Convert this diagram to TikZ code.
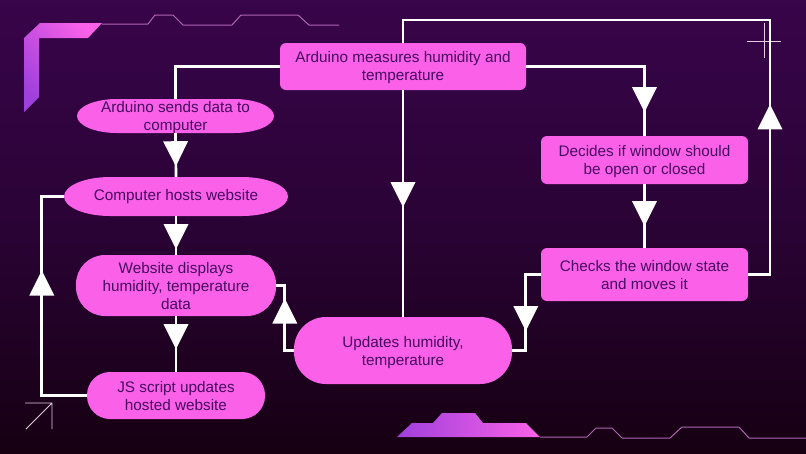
\documentclass[tikz,border=0pt]{standalone}
\usepackage{fontspec}
\setmainfont{Liberation Sans}
\usetikzlibrary{decorations.markings}
\definecolor{bgtop}{HTML}{38044A}
\definecolor{bgmid}{HTML}{2A0335}
\definecolor{bgbot}{HTML}{160012}
\definecolor{pinkbox}{HTML}{FA61E8}
\definecolor{inkpurple}{HTML}{470A60}
\definecolor{violetdeco}{HTML}{A040DC}
\definecolor{linedeco}{HTML}{B066B4}
\newcommand{\ovalfill}[5]{% cx cy half-width half-height corner-width
  \fill[pinkbox] ({#1-#3},#2)
    .. controls ({#1-#3},{#2-0.55*#4}) and ({#1-#3+0.45*#5},{#2-#4}) .. ({#1-#3+#5},{#2-#4})
    -- ({#1+#3-#5},{#2-#4})
    .. controls ({#1+#3-0.45*#5},{#2-#4}) and ({#1+#3},{#2-0.55*#4}) .. ({#1+#3},#2)
    .. controls ({#1+#3},{#2+0.55*#4}) and ({#1+#3-0.45*#5},{#2+#4}) .. ({#1+#3-#5},{#2+#4})
    -- ({#1-#3+#5},{#2+#4})
    .. controls ({#1-#3+0.45*#5},{#2+#4}) and ({#1-#3},{#2+0.55*#4}) .. ({#1-#3},#2) -- cycle;}
\tikzset{
  x=1pt,y=-1pt,
  label text/.style={text=inkpurple,font=\fontsize{15.3}{18}\selectfont,align=center,inner sep=0pt},
  boxtext/.style 2 args={label={[label text,yshift=-#1pt]center:{#2}}},
  squarebox/.style={inner sep=0pt,fill=pinkbox,rounded corners=6pt},
  pillbox/.style={inner sep=0pt,fill=pinkbox},
  ovalspot/.style={inner sep=0pt},
  link/.style={draw=white,line width=2.7pt},
  tipat/.style={postaction={decorate,decoration={markings,
    mark=at position #1pt with {\fill[white] (-25,-12.5) -- (0,0) -- (-25,12.5) -- cycle;}}}},
  thin deco/.style={draw=linedeco,line width=1pt},
  pale deco/.style={draw=white!80!violet,line width=0.8pt},
}
\begin{document}
\begin{tikzpicture}
\useasboundingbox (0,0) rectangle (806,453);
\shade[top color=bgtop,bottom color=bgbot,middle color=bgmid] (0,0) rectangle (806,453);

% decoration
\shade[top color=pinkbox,bottom color=violetdeco,shading angle=-50]
  (24,38) -- (40,23) -- (102,23) -- (88,38) -- (39,38) -- (39,97) -- (24,112) -- cycle;
\draw[thin deco] (102,24) -- (148,24) -- (155,15) -- (173,15) -- (183,25) -- (232,25) -- (241,15) -- (298,15) -- (309,25) -- (339,25);
\shade[left color=violetdeco,right color=pinkbox]
  (397,437) -- (412,423) -- (433,423) -- (442,413) -- (475,413) -- (483,423) -- (526,423) -- (540,437) -- cycle;
\draw[thin deco] (540,437) -- (587,437) -- (596,428) -- (612,428) -- (622,438) -- (670,438) -- (682,427) -- (739,427) -- (749,438) -- (806,438);
\draw[pale deco] (25,403) -- (52,403) -- (52,429) (52,403) -- (26,429);
\draw[pale deco] (747,41) -- (781,41) (764,23) -- (764,58);

% nodes
\ovalfill{175.5}{116}{98.5}{17}{40}
\ovalfill{176}{196.5}{112}{19.5}{46}
\node[squarebox,minimum width=246pt,minimum height=47pt,boxtext={1}{Arduino measures humidity and\\temperature}] (top) at (403,66.5) {};
\node[ovalspot,minimum width=197pt,minimum height=34pt,boxtext={2}{Arduino sends data to\\computer}] (send) at (175.5,116) {};
\node[ovalspot,minimum width=224pt,minimum height=39pt,boxtext={0}{Computer hosts website}] (host) at (176,196.5) {};
\node[pillbox,rounded corners=29pt,minimum width=200pt,minimum height=61pt,boxtext={0.7}{Website displays\\humidity, temperature\\data}] (web) at (176,285.5) {};
\node[pillbox,rounded corners=23pt,minimum width=178pt,minimum height=47pt,boxtext={1}{JS script updates\\hosted website}] (js) at (176,395.5) {};
\node[pillbox,rounded corners=32pt,minimum width=218pt,minimum height=67pt,boxtext={2}{Updates humidity,\\temperature}] (upd) at (403,350.5) {};
\node[squarebox,minimum width=207pt,minimum height=48pt,boxtext={2}{Decides if window should\\be open or closed}] (dec) at (644.5,160) {};
\node[squarebox,minimum width=207pt,minimum height=53pt,boxtext={1}{Checks the window state\\and moves it}] (chk) at (644.5,274.5) {};

% connectors
\coordinate (toploop) at (770,20);
\draw[link] (top.west) -| (send.north);
\draw[link,tipat=33] (send.south) -- (host.north);
\draw[link,tipat=33] (host.south) -- (web.north);
\draw[link,tipat=33] (web.south) -- (js.north);
\draw[link,tipat=170] (js.west) -- ++(-45,0) |- (host.west);
\draw[link,tipat=61] (upd.west) -- ++(-9,0) |- (web.east);
\draw[link,tipat=164] (top.east) -| (dec.north);
\draw[link,tipat=42] (dec.south) -- (chk.north);
\draw[link,tipat=117] (top.south) -- (upd.north);
\draw[link,tipat=71.5] (chk.west) -- ++(-15,0) |- (upd.east);
\draw[link,tipat=192] (chk.east) -| (toploop) -| (top.north);
\end{tikzpicture}
\end{document}
